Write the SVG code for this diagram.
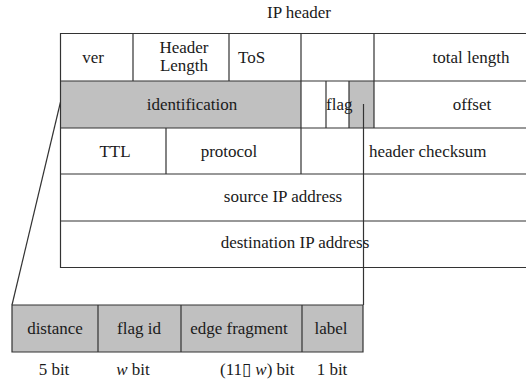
<svg xmlns="http://www.w3.org/2000/svg" width="526" height="380" viewBox="0 0 526 380">
  <style>
    text { font-family: "Liberation Serif", "Times New Roman", serif; font-size: 17px; fill: #1a1a1a; }
    .c { text-anchor: middle; }
    .ln { stroke: #333; stroke-width: 1.2; fill: none; }
    .g { fill: #c0c0c0; }
  </style>
  <rect width="526" height="380" fill="#fff"/>

  <text class="c" x="299" y="18">IP header</text>

  <!-- IP header table -->
  <g id="ip-header">
    <rect class="g" x="61" y="81" width="240" height="47"/>
    <rect class="g" x="349" y="81" width="25" height="47"/>
    <!-- rows -->
    <path class="ln" d="M60.5 33.5H526 M60.5 81H526 M60.5 128H526 M60.5 174H526 M60.5 221H526 M60.5 267.5H526 M60.5 33V268"/>
    <!-- row 1 dividers -->
    <path class="ln" d="M133 33V81 M229 33V81 M301 33V81 M374 33V81"/>
    <!-- row 2 dividers -->
    <path class="ln" d="M301 81V128 M326 81V128 M349 81V128 M374 81V128"/>
    <!-- row 3 dividers -->
    <path class="ln" d="M166 128V174 M301 128V174"/>
  </g>

  <g id="ver"><text class="c" x="93" y="63">ver</text></g>
  <g id="header-length">
    <text class="c" x="184" y="53">Header</text>
    <text class="c" x="184" y="71">Length</text>
  </g>
  <g id="tos"><text x="238" y="63">ToS</text></g>
  <g id="total-length"><text class="c" x="471" y="63">total length</text></g>
  <g id="identification"><text class="c" x="192" y="110">identification</text></g>
  <g id="flag"><text x="326" y="110">flag</text></g>
  <g id="offset"><text class="c" x="472" y="110">offset</text></g>
  <g id="ttl"><text class="c" x="115" y="157">TTL</text></g>
  <g id="protocol"><text class="c" x="229" y="157">protocol</text></g>
  <g id="header-checksum"><text x="369" y="157">header checksum</text></g>
  <g id="source-ip"><text class="c" x="283" y="202">source IP address</text></g>
  <g id="destination-ip"><text class="c" x="295" y="248">destination IP address</text></g>

  <!-- expanded identification field -->
  <g id="id-field">
    <rect class="g" x="12" y="305" width="351" height="47"/>
    <path class="ln" d="M12 305H363V352H12Z M98 305V352 M181 305V352 M302 305V352"/>
    <text class="c" x="55" y="334">distance</text>
    <text class="c" x="139" y="334">flag id</text>
    <text class="c" x="239" y="334">edge fragment</text>
    <text class="c" x="331" y="334">label</text>
  </g>

  <g id="bit-widths">
    <text class="c" x="54" y="375">5 bit</text>
    <text class="c" x="133" y="375"><tspan font-style="italic">w</tspan> bit</text>
    <text x="220" y="375">(11▯  <tspan font-style="italic">w</tspan>) bit</text>
    <text class="c" x="332" y="375">1 bit</text>
  </g>

  <!-- connectors -->
  <g id="connectors">
    <path class="ln" d="M60.5 102L12 305"/>
    <path class="ln" d="M363.5 104V305"/>
  </g>
</svg>
